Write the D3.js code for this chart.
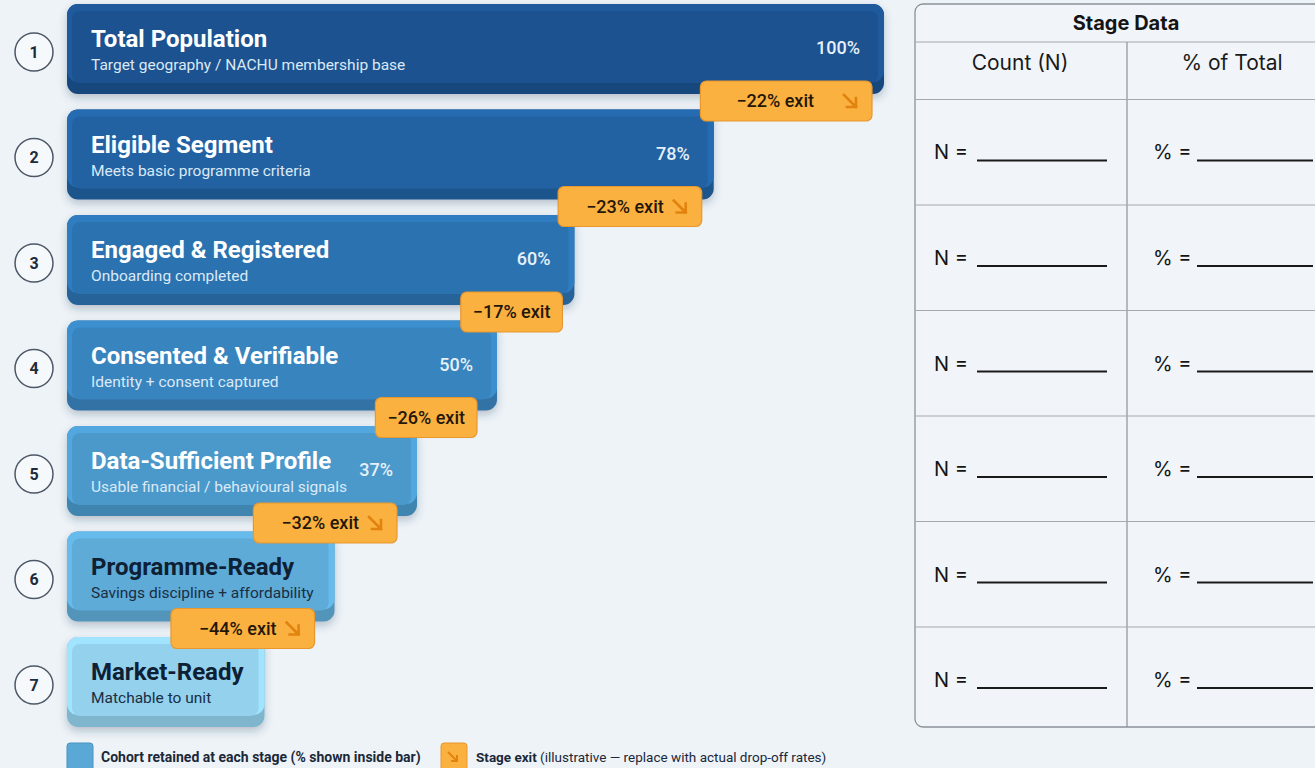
<!DOCTYPE html>
<html>
<head>
<meta charset="utf-8">
<script src="https://cdn.jsdelivr.net/npm/d3@7"></script>
<style>
  html, body { margin: 0; padding: 0; background: #eef3f8; }
  svg { display: block; }
</style>
</head>
<body>
<svg id="chart"></svg>
<script>
// stage data
var stageNames = ["Total Population", "Eligible Segment", "Engaged & Registered",
  "Consented & Verifiable", "Data-Sufficient Profile", "Programme-Ready", "Market-Ready"];
var stageNotes = ["Target geography / NACHU membership base", "Meets basic programme criteria",
  "Onboarding completed", "Identity + consent captured", "Usable financial / behavioural signals",
  "Savings discipline + affordability", "Matchable to unit"];
var retained = [100, 78, 60, 50, 37, 25, 14];
var showPct = [true, true, true, true, true, false, false];
var exitRates = [22, 23, 17, 26, 32, 44];
var exitArrow = [true, true, false, false, true, true];
var barColors = ["#1c5290", "#2262a2", "#2b72b0", "#3884be", "#4b99cb", "#5eabd8", "#93d1ec"];
var darkTitle = [false, false, false, false, false, true, true];

var tableRows = [1, 2, 3, 4, 5, 6];

var width = 1315;
var height = 768;
var barLeft = 67;
var textLeft = 91;

var svg = d3.select("#chart").attr("width", width).attr("height", height);

var defs = svg.append("defs");
var shadow = defs.append("filter").attr("id", "shadow")
  .attr("x", "-10%").attr("y", "-20%").attr("width", "120%").attr("height", "150%");
shadow.append("feDropShadow").attr("dx", 0).attr("dy", 4).attr("stdDeviation", 4)
  .attr("flood-color", "#1c3550").attr("flood-opacity", 0.28);

var yScale = d3.scaleBand()
  .domain(d3.range(stageNames.length))
  .range([4, 727])
  .paddingInner(0.147);

var xScale = d3.scaleLinear().domain([0, 100]).range([barLeft + 43, 884]);

var bh = yScale.bandwidth();

// bars
var stages = svg.selectAll("g.stage")
  .data(d3.range(stageNames.length))
  .enter()
  .append("g")
  .attr("class", "stage")
  .attr("transform", (i) => "translate(0," + yScale(i) + ")");

// number circles
stages.append("circle")
  .attr("cx", 34).attr("cy", bh / 2 + 3).attr("r", 19)
  .attr("fill", "#f6f9fc").attr("stroke", "#4d5866").attr("stroke-width", 1.5);
stages.append("text")
  .attr("x", 34).attr("y", bh / 2 + 9)
  .attr("text-anchor", "middle")
  .style("font", "bold 16px Roboto, sans-serif")
  .attr("fill", "#1e2b3a")
  .text((i) => i + 1);

var bars = stages.append("g");

// texts first, so the bar can grow to fit them
var titles = stages.append("text")
  .attr("x", textLeft).attr("y", 43)
  .style("font", "bold 24px Roboto, sans-serif")
  .attr("fill", (i) => darkTitle[i] ? "#0e2034" : "#ffffff")
  .text((i) => stageNames[i]);
var notes = stages.append("text")
  .attr("x", textLeft).attr("y", 66)
  .style("font", "15.5px Roboto, sans-serif")
  .attr("fill", (i) => darkTitle[i] ? "#1a2e44" : "#dbe9f6")
  .text((i) => stageNotes[i]);

var rights = [];
stages.each(function (i) {
  var tw = Math.max(titles.nodes()[i].getComputedTextLength(), notes.nodes()[i].getComputedTextLength());
  var need = textLeft + tw + (showPct[i] ? 70 : 21);
  rights[i] = Math.max(xScale(retained[i]), need);
});

bars.each(function (i) {
  var g = d3.select(this);
  var w = rights[i] - barLeft;
  var c = d3.color(barColors[i]);
  g.append("rect")
    .attr("x", barLeft).attr("y", 0).attr("width", w).attr("height", bh)
    .attr("rx", 11).attr("fill", c.darker(0.4)).attr("filter", "url(#shadow)");
  g.append("rect")
    .attr("x", barLeft).attr("y", 0).attr("width", w).attr("height", bh - 12)
    .attr("rx", 11).attr("fill", c.brighter(0.25));
  g.append("rect")
    .attr("x", barLeft + 5).attr("y", 7).attr("width", w - 11).attr("height", bh - 18)
    .attr("rx", 8).attr("fill", c.toString());
});

stages.filter((i) => showPct[i])
  .append("text")
  .attr("x", (i) => rights[i] - 24).attr("y", 50)
  .attr("text-anchor", "end")
  .style("font", "500 18px Roboto, sans-serif")
  .attr("fill", "#e6f0fa")
  .text((i) => retained[i] + "%");

titles.raise();
notes.raise();

// exit badges
var badges = svg.selectAll("g.exit")
  .data(exitRates)
  .enter()
  .append("g")
  .attr("class", "exit");

badges.each(function (rate, i) {
  var g = d3.select(this);
  var cy = yScale(i) + bh + 7;
  var label = g.append("text")
    .attr("y", cy + 6.5)
    .style("font", "500 18px Roboto, sans-serif")
    .attr("fill", "#24170a")
    .text("\u2212" + rate + "% exit");
  var tw = label.node().getComputedTextLength();
  var bw = tw + 24 + (exitArrow[i] ? (i === 0 ? 70 : 42) : 0);
  var right = rights[i] - (i < 3 ? 12 : 20);
  var left = right - bw;
  g.insert("rect", "text")
    .attr("x", left).attr("y", cy - 20).attr("width", bw).attr("height", 40)
    .attr("rx", 6).attr("fill", "#fbb13f").attr("stroke", "#e8972e").attr("stroke-width", 1.2);
  var tx = exitArrow[i] ? right - 34 - tw - (i === 0 ? 24 : 4) : left + 12;
  label.attr("x", tx);
  if (exitArrow[i]) {
    var ax = right - 28, ay = cy - 6;
    g.append("path")
      .attr("d", "M" + ax + "," + ay + " L" + (ax + 12) + "," + (ay + 12) +
        " M" + (ax + 12) + "," + (ay + 3) + " L" + (ax + 12) + "," + (ay + 12) + " L" + (ax + 3) + "," + (ay + 12))
      .attr("fill", "none").attr("stroke", "#e2820f").attr("stroke-width", 2.6)
      .attr("stroke-linecap", "square");
  }
});

// stage data table
var tLeft = 915, tRight = 1340, tTop = 4, tBottom = 727, tMid = 1127;
var table = svg.append("g").attr("class", "table");
table.append("rect")
  .attr("x", tLeft).attr("y", tTop).attr("width", tRight - tLeft).attr("height", tBottom - tTop)
  .attr("rx", 8).attr("fill", "#f1f5f9").attr("stroke", "#8a9198").attr("stroke-width", 1.3);
table.append("text")
  .attr("x", 1126).attr("y", 30).attr("text-anchor", "middle")
  .style("font", "bold 20px Inter, sans-serif").attr("fill", "#141414")
  .text("Stage Data");
table.append("line")
  .attr("x1", tLeft).attr("x2", tRight).attr("y1", 42).attr("y2", 42)
  .attr("stroke", "#a3a9b0").attr("stroke-width", 1.2);
table.append("line")
  .attr("x1", tMid).attr("x2", tMid).attr("y1", 42).attr("y2", tBottom)
  .attr("stroke", "#8a9198").attr("stroke-width", 1.2);
table.append("text")
  .attr("x", 1020).attr("y", 70).attr("text-anchor", "middle")
  .style("font", "21px Inter, sans-serif").attr("fill", "#1a1a1a")
  .text("Count (N)");
table.append("text")
  .attr("x", 1232).attr("y", 70).attr("text-anchor", "middle")
  .style("font", "21px Inter, sans-serif").attr("fill", "#1a1a1a")
  .text("% of Total");

table.selectAll("line.row")
  .data(tableRows)
  .enter()
  .append("line")
  .attr("class", "row")
  .attr("x1", tLeft).attr("x2", tRight)
  .attr("y1", (i) => yScale(i) - 10).attr("y2", (i) => yScale(i) - 10)
  .attr("stroke", "#a3a9b0").attr("stroke-width", 1.2);

var cells = table.selectAll("g.cell")
  .data(tableRows)
  .enter()
  .append("g")
  .attr("class", "cell")
  .attr("transform", (i) => "translate(0," + (yScale(i) + bh / 2 - 2) + ")");
cells.append("text")
  .attr("x", 934).attr("y", 7)
  .style("font", "20px Inter, sans-serif").attr("fill", "#141414")
  .text("N =");
cells.append("line")
  .attr("x1", 977).attr("x2", 1107).attr("y1", 8).attr("y2", 8)
  .attr("stroke", "#1a1a1a").attr("stroke-width", 2);
cells.append("text")
  .attr("x", 1153).attr("y", 7)
  .style("font", "20px Inter, sans-serif").attr("fill", "#141414")
  .text("% =");
cells.append("line")
  .attr("x1", 1197).attr("x2", 1313).attr("y1", 8).attr("y2", 8)
  .attr("stroke", "#1a1a1a").attr("stroke-width", 2);

// legend
var legend = svg.append("g").attr("class", "legend");
legend.append("rect")
  .attr("x", 67).attr("y", 743).attr("width", 26).attr("height", 30).attr("rx", 3)
  .attr("fill", "#5aa8d5").attr("stroke", "#4a93c0");
legend.append("text")
  .attr("x", 101).attr("y", 762)
  .style("font", "bold 14px 'Liberation Sans Narrow', 'Roboto', sans-serif")
  .attr("fill", "#1b2838")
  .text("Cohort retained at each stage (% shown inside bar)");
legend.append("rect")
  .attr("x", 441).attr("y", 743).attr("width", 26).attr("height", 30).attr("rx", 3)
  .attr("fill", "#fbb13f").attr("stroke", "#e8972e");
legend.append("path")
  .attr("d", "M448,752 L457,761 M457,755 L457,761 L451,761")
  .attr("fill", "none").attr("stroke", "#e2820f").attr("stroke-width", 2);
var lt = legend.append("text")
  .attr("x", 476).attr("y", 762)
  .style("font", "13.5px 'Liberation Sans Narrow', 'Roboto', sans-serif")
  .attr("fill", "#1b2838");
lt.append("tspan").style("font-weight", "bold").text("Stage exit");
lt.append("tspan").text(" (illustrative \u2014 replace with actual drop-off rates)");
</script>
</body>
</html>
